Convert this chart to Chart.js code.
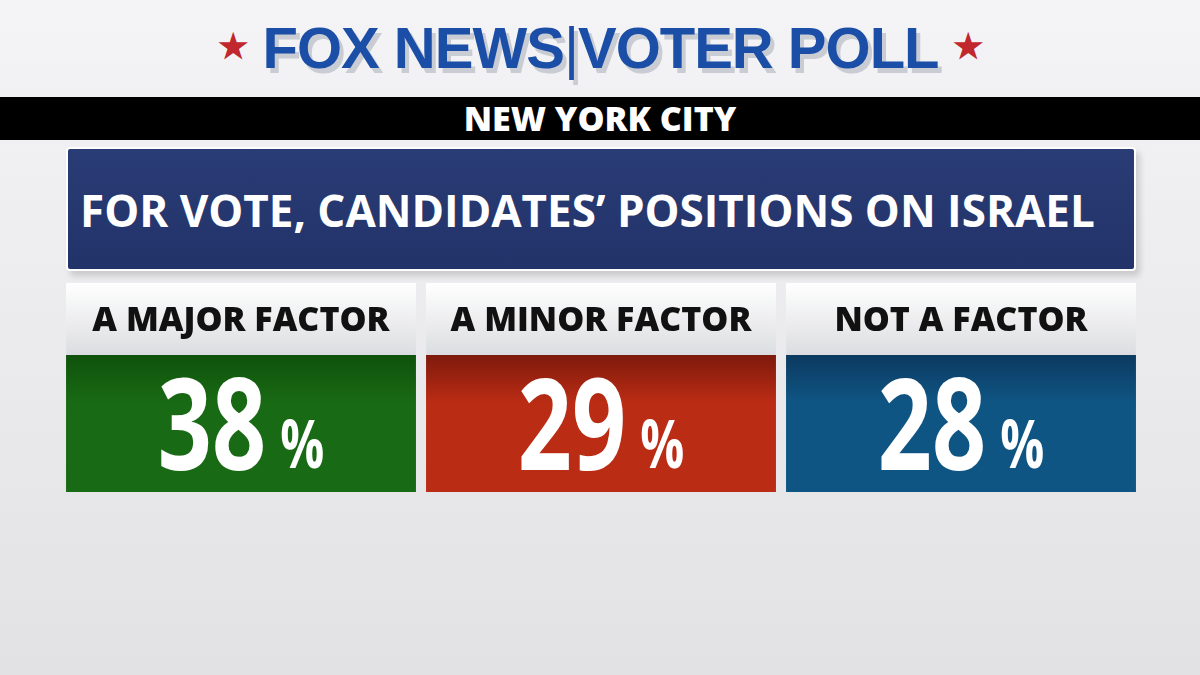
<!DOCTYPE html>
<html>
<head>
<meta charset="utf-8">
<script src="https://cdn.jsdelivr.net/npm/chart.js@4"></script>
<style>
  body { margin: 0; width: 1200px; height: 675px; overflow: hidden;
         background: linear-gradient(#f4f4f6, #e2e2e5); font-family: "Open Sans", sans-serif; position: relative; }
  #logo { position: absolute; top: 14px; left: 0; width: 1200px; text-align: center;
          font: 900 58px "Liberation Sans", sans-serif; color: #1b4ea6; letter-spacing: -1px;
          text-shadow: 4px 5px 0 #c9ccd3; }
  #logo .star { color: #c0282e; font-size: 34px; vertical-align: 10px; text-shadow: none; }
  #logo .bar { color: #1b4ea6; font-weight: 300; }
  #band { position: absolute; top: 97px; left: 0; width: 1200px; height: 43px; background: #000;
          color: #fff; text-align: center; font: 800 34px "Open Sans", sans-serif; line-height: 43px; }
  #title { position: absolute; top: 147px; left: 66px; width: 1070px; height: 124px;
           background: linear-gradient(#2a3c75, #22336a); border: 2px solid #fff; border-radius: 4px;
           color: #fff; font: 700 44px "Open Sans", sans-serif; line-height: 122px; padding-left: 12px;
           box-sizing: border-box; box-shadow: 4px 5px 6px rgba(0,0,0,0.15); white-space: nowrap; }
  #wrap { position: absolute; left: 61px; top: 283px; width: 1080px; height: 209px; }
</style>
</head>
<body>
<div id="logo"><span class="star">★</span> FOX NEWS<span class="bar">|</span>VOTER POLL <span class="star">★</span></div>
<div id="band">NEW YORK CITY</div>
<div id="title">FOR VOTE, CANDIDATES’ POSITIONS ON ISRAEL</div>
<div id="wrap"><canvas id="c"></canvas></div>
<script>
const categories = ["A MAJOR FACTOR", "A MINOR FACTOR", "NOT A FACTOR"];
const percents = [38, 29, 28];
const panelTop = ["#0f520c", "#7e1a0c", "#0c3a60"];
const panelBottom = ["#196a14", "#bb2c14", "#0f5584"];

function panelFill(ctx) {
    const area = ctx.chart.chartArea;
    if (!area) return panelBottom[ctx.dataIndex];
    const g = ctx.chart.ctx.createLinearGradient(0, area.top + 72, 0, area.bottom);
    g.addColorStop(0, panelTop[ctx.dataIndex]);
    g.addColorStop(0.35, panelBottom[ctx.dataIndex]);
    g.addColorStop(1, panelBottom[ctx.dataIndex]);
    return g;
}

const labelPlugin = {
    id: 'labels',
    afterDatasetsDraw(chart) {
        const ctx = chart.ctx;
        const valueBars = chart.getDatasetMeta(0).data;
        const headBars = chart.getDatasetMeta(1).data;
        ctx.save();
        ctx.textAlign = 'center';
        ctx.textBaseline = 'middle';
        headBars.forEach((bar, i) => {
            ctx.fillStyle = '#111';
            ctx.font = '800 34px "Open Sans", sans-serif';
            ctx.fillText(categories[i], bar.x, (bar.y + bar.base) / 2 + 2);
        });
        const sx = 0.74;
        valueBars.forEach((bar, i) => {
            const cy = (bar.y + bar.base) / 2 + 10;
            const num = String(percents[i]);
            ctx.font = 'bold 128px "Open Sans", sans-serif';
            const nw = ctx.measureText(num).width * sx;
            ctx.font = 'bold 66px "Open Sans", sans-serif';
            const pw = ctx.measureText('%').width * sx;
            const left = bar.x - (nw + 14 + pw) / 2;
            ctx.fillStyle = '#fff';
            ctx.textAlign = 'left';
            ctx.save();
            ctx.translate(left, cy);
            ctx.scale(sx, 1);
            ctx.font = 'bold 128px "Open Sans", sans-serif';
            ctx.fillText(num, 0, 0);
            ctx.font = 'bold 66px "Open Sans", sans-serif';
            ctx.fillText('%', (nw + 14) / sx, 16);
            ctx.restore();
        });
        ctx.restore();
    }
};

new Chart(document.getElementById("c"), {
    type: 'bar',
    data: {
        labels: categories,
        datasets: [
            {
                label: "value",
                data: categories.map(() => 0.655),
                backgroundColor: panelFill,
                categoryPercentage: 1,
                barPercentage: 0.972
            },
            {
                label: "header",
                data: categories.map(() => 0.345),
                backgroundColor: (ctx) => {
                    const area = ctx.chart.chartArea;
                    if (!area) return "#eeeeee";
                    const g = ctx.chart.ctx.createLinearGradient(0, area.top, 0, area.top + 72);
                    g.addColorStop(0, "#ffffff");
                    g.addColorStop(1, "#dcdde0");
                    return g;
                },
                categoryPercentage: 1,
                barPercentage: 0.972
            }
        ]
    },
    options: {
        responsive: true,
        maintainAspectRatio: false,
        animation: false,
        layout: { padding: 0 },
        plugins: {
            legend: { display: false },
            tooltip: { enabled: false }
        },
        scales: {
            x: { stacked: true, display: false },
            y: { stacked: true, display: false, min: 0, max: 1 }
        }
    },
    plugins: [labelPlugin]
});
</script>
</body>
</html>
